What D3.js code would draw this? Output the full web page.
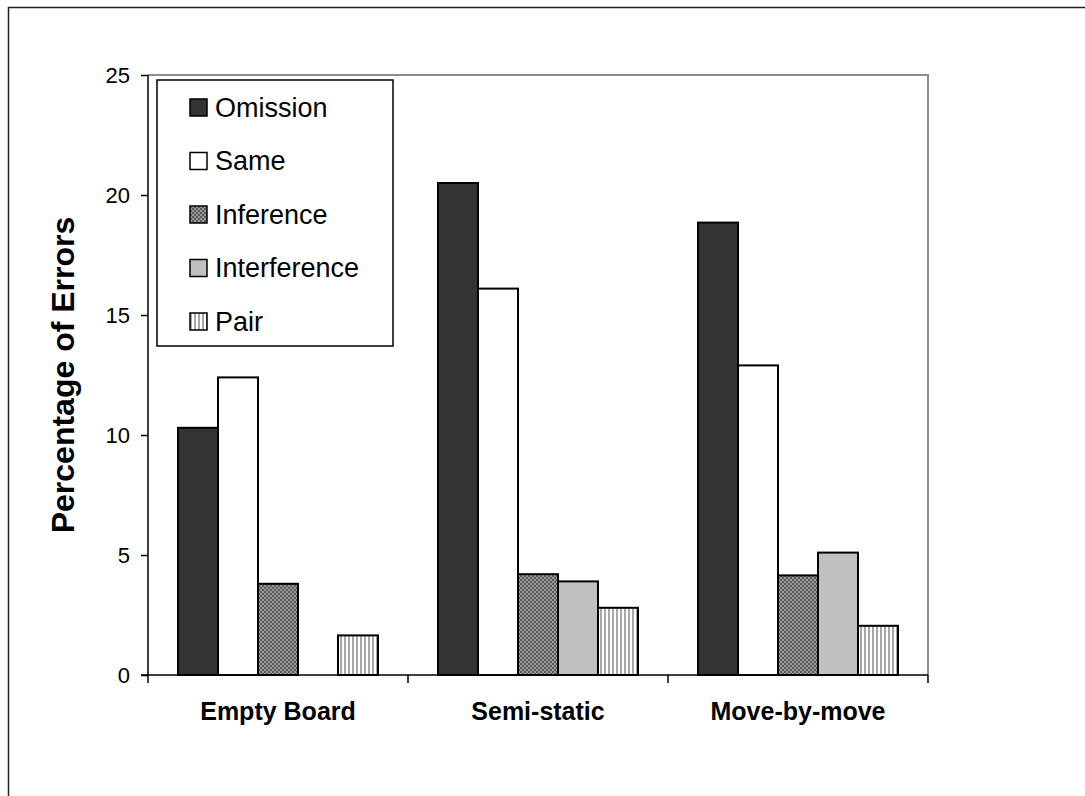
<!DOCTYPE html>
<html>
<head>
<meta charset="utf-8">
<script src="https://cdn.jsdelivr.net/npm/d3@7"></script>
<style>
  body { margin: 0; background: #fff; }
  svg text { font-family: Arial, "Liberation Sans", sans-serif; fill: #000; }
</style>
</head>
<body>
<div id="chart"></div>
<script>
// data
var categories = ["Empty Board", "Semi-static", "Move-by-move"];
var series = ["Omission", "Same", "Inference", "Interference", "Pair"];
var omission = [10.3, 20.5, 18.85];
var same = [12.4, 16.1, 12.9];
var inference = [3.8, 4.2, 4.15];
var interference = [0, 3.9, 5.1];
var pair = [1.65, 2.8, 2.05];
var yTicks = [0, 5, 10, 15, 20, 25];

var values = [omission, same, inference, interference, pair];
var fills = ["#333333", "#ffffff", "url(#checker)", "#c0c0c0", "url(#stripes)"];

var margin = {top: 75, right: 157, bottom: 121, left: 148},
    width = 1085 - margin.left - margin.right,
    height = 796 - margin.top - margin.bottom;

var svg = d3.select("#chart").append("svg")
    .attr("width", 1085)
    .attr("height", 796);

// patterns
var defs = svg.append("defs");
var chk = defs.append("pattern").attr("id", "checker")
    .attr("patternUnits", "userSpaceOnUse").attr("width", 4).attr("height", 4);
chk.append("rect").attr("width", 4).attr("height", 4).attr("fill", "#9a9a9a");
chk.append("rect").attr("width", 2).attr("height", 2).attr("fill", "#5a5a5a");
chk.append("rect").attr("x", 2).attr("y", 2).attr("width", 2).attr("height", 2).attr("fill", "#5a5a5a");

var str = defs.append("pattern").attr("id", "stripes")
    .attr("patternUnits", "userSpaceOnUse").attr("width", 4).attr("height", 4);
str.append("rect").attr("width", 4).attr("height", 4).attr("fill", "#ffffff");
str.append("rect").attr("width", 2).attr("height", 4).attr("fill", "#a8a8a8");

// outer frame
svg.append("rect")
    .attr("x", 8.5).attr("y", 7.5)
    .attr("width", 1100).attr("height", 800)
    .attr("fill", "none").attr("stroke", "#222").attr("stroke-width", 1.5);

var g = svg.append("g")
    .attr("transform", "translate(" + margin.left + "," + margin.top + ")");

var x = d3.scaleBand().domain(categories).range([0, width]).padding(0);
var xs = d3.scaleBand().domain(series).range([30, x.bandwidth() - 30]).padding(0);
var y = d3.scaleLinear().domain([0, 25]).range([height, 0]);

// plot area border (top and right, grey)
g.append("path")
    .attr("d", "M0,0H" + width + "V" + height)
    .attr("fill", "none").attr("stroke", "#8c8c8c").attr("stroke-width", 2);

// bars
series.forEach(function(s, i) {
  g.selectAll(".bar-" + i)
      .data(categories)
      .enter().append("rect")
      .attr("class", "bar-" + i)
      .attr("x", function(d) { return x(d) + xs(s); })
      .attr("width", xs.bandwidth())
      .attr("y", function(d, j) { return y(values[i][j]); })
      .attr("height", function(d, j) { return height - y(values[i][j]); })
      .style("fill", fills[i])
      .style("stroke", "#000")
      .style("stroke-width", function(d, j) { return values[i][j] > 0 ? 2 : 0; });
});

// y axis
var yAxis = g.append("g")
    .call(d3.axisLeft(y).tickValues(yTicks).tickSize(7).tickPadding(11).tickFormat(d3.format("d")));
yAxis.select(".domain").attr("stroke", "#000").attr("stroke-width", 1.5).attr("d", "M0," + height + "V0");
yAxis.selectAll(".tick line").attr("stroke", "#000").attr("stroke-width", 1.5);
yAxis.selectAll("text").style("font-size", "22px");

// x axis
var xAxis = g.append("g")
    .attr("transform", "translate(0," + height + ")")
    .call(d3.axisBottom(x).tickSize(0).tickPadding(27));
xAxis.select(".domain").attr("stroke", "#000").attr("stroke-width", 1.5).attr("d", "M-7,0H" + width);
xAxis.selectAll("text").style("font-size", "25px").style("font-weight", "bold");
g.selectAll(".xtick")
    .data(x.domain().map(function(d) { return x(d); }).concat([width]))
    .enter().append("line")
    .attr("x1", function(d) { return d; }).attr("x2", function(d) { return d; })
    .attr("y1", height).attr("y2", height + 8)
    .attr("stroke", "#000").attr("stroke-width", 1.5);

// y title
g.append("text")
    .attr("transform", "rotate(-90)")
    .attr("x", -height / 2)
    .attr("y", -74)
    .attr("text-anchor", "middle")
    .style("font-size", "32px")
    .style("font-weight", "bold")
    .text("Percentage of Errors");

// legend
var legend = g.append("g").attr("transform", "translate(9,5)");
legend.append("rect")
    .attr("width", 236).attr("height", 266)
    .attr("fill", "#fff").attr("stroke", "#000").attr("stroke-width", 1.5);
var item = legend.selectAll(".item")
    .data(series)
    .enter().append("g")
    .attr("transform", function(d, i) { return "translate(33," + (27 + i * 53.5) + ")"; });
item.append("rect")
    .attr("y", -8).attr("width", 17).attr("height", 17)
    .style("fill", function(d, i) { return fills[i]; })
    .style("stroke", "#000").style("stroke-width", 1.5);
item.append("text")
    .attr("x", 25).attr("dy", "0.36em")
    .style("font-size", "27px")
    .text(function(d) { return d; });
</script>
</body>
</html>
